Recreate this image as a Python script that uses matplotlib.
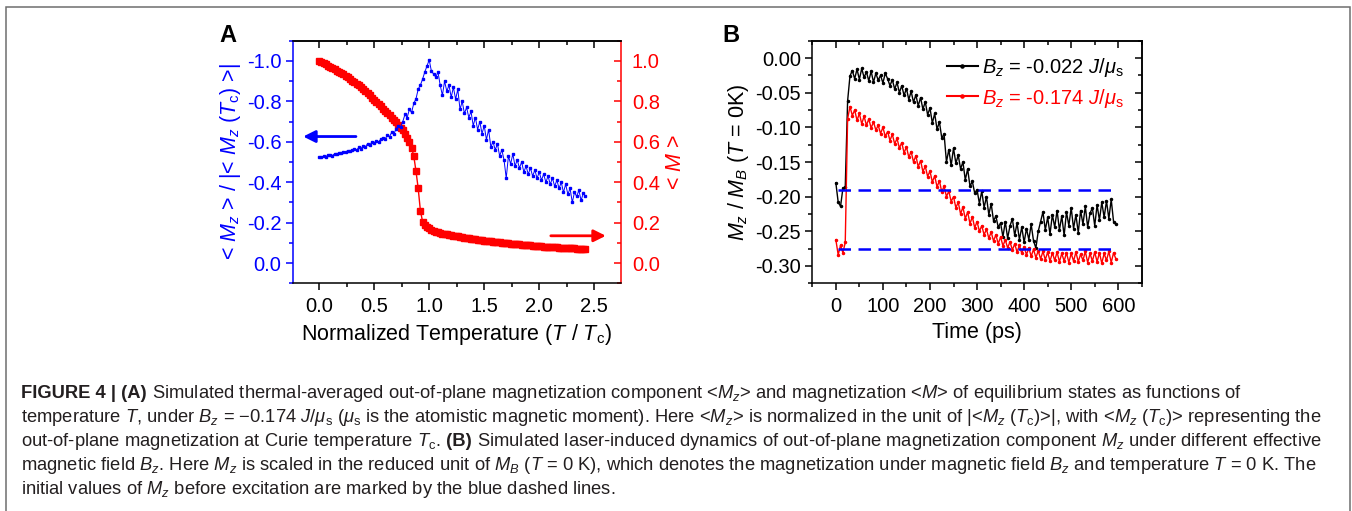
import numpy as np
import matplotlib
matplotlib.use("Agg")
import matplotlib.pyplot as plt
from matplotlib.ticker import MultipleLocator
from matplotlib.patches import Rectangle

plt.rcParams['font.family'] = ['Liberation Sans', 'DejaVu Sans']
plt.rcParams['mathtext.fontset'] = 'custom'
plt.rcParams['mathtext.rm'] = 'Liberation Sans'
plt.rcParams['mathtext.it'] = 'Liberation Sans:italic'
plt.rcParams['mathtext.bf'] = 'Liberation Sans:bold'
plt.rcParams['axes.unicode_minus'] = False

W, H = 1352, 511

# ---- panel A: equilibrium <Mz> and <M> vs T/Tc (sampled every 0.02) ----
temp_norm = np.round(np.arange(0, 2.43, 0.02), 2)
mz_norm = [
    -0.524, -0.526, -0.528, -0.527, -0.533, -0.535, -0.532, -0.540, -0.538, -0.545,
    -0.543, -0.550, -0.548, -0.556, -0.553, -0.560, -0.565, -0.558, -0.572, -0.566,
    -0.580, -0.575, -0.590, -0.583, -0.600, -0.594, -0.606, -0.600, -0.612, -0.620,
    -0.614, -0.632, -0.625, -0.648, -0.640, -0.665, -0.680, -0.672, -0.700, -0.735,
    -0.720, -0.760, -0.745, -0.790, -0.812, -0.860, -0.880, -0.910, -0.945, -0.975,
    -1.005, -0.950, -0.935, -0.920, -0.945, -0.880, -0.830, -0.900, -0.850, -0.880,
    -0.820, -0.870, -0.810, -0.860, -0.760, -0.800, -0.740, -0.770, -0.720, -0.750,
    -0.680, -0.720, -0.660, -0.700, -0.640, -0.680, -0.610, -0.660, -0.575, -0.600,
    -0.560, -0.590, -0.530, -0.560, -0.510, -0.420, -0.530, -0.490, -0.540, -0.480,
    -0.510, -0.470, -0.500, -0.450, -0.480, -0.440, -0.470, -0.430, -0.460, -0.420,
    -0.450, -0.410, -0.440, -0.400, -0.430, -0.390, -0.420, -0.380, -0.410, -0.370,
    -0.400, -0.350, -0.390, -0.340, -0.370, -0.300, -0.350, -0.330, -0.360, -0.310,
    -0.345, -0.330,
]
m_total = [
    1.000, 0.994, 0.989, 0.983, 0.977, 0.971, 0.965, 0.959, 0.952, 0.946,
    0.939, 0.933, 0.926, 0.919, 0.911, 0.903, 0.895, 0.887, 0.879, 0.871,
    0.862, 0.852, 0.841, 0.830, 0.819, 0.808, 0.797, 0.786, 0.775, 0.764,
    0.753, 0.742, 0.731, 0.720, 0.708, 0.696, 0.684, 0.670, 0.656, 0.640,
    0.620, 0.598, 0.570, 0.530, 0.455, 0.370, 0.260, 0.205, 0.190, 0.178,
    0.172, 0.165, 0.160, 0.156, 0.152, 0.150, 0.146, 0.144, 0.142, 0.140,
    0.138, 0.136, 0.134, 0.132, 0.130, 0.128, 0.126, 0.124, 0.122, 0.120,
    0.119, 0.117, 0.116, 0.114, 0.113, 0.111, 0.110, 0.108, 0.107, 0.106,
    0.104, 0.103, 0.102, 0.100, 0.099, 0.098, 0.097, 0.096, 0.095, 0.094,
    0.093, 0.092, 0.091, 0.090, 0.089, 0.088, 0.087, 0.086, 0.086, 0.085,
    0.084, 0.083, 0.082, 0.082, 0.081, 0.080, 0.079, 0.079, 0.078, 0.077,
    0.077, 0.076, 0.075, 0.075, 0.074, 0.073, 0.073, 0.072, 0.072, 0.071,
    0.070, 0.070,
]

# ---- panel B: Mz/MB dynamics (sampled every 5 ps) ----
time_ps = np.arange(0, 600, 5)
mz_b022 = [
    -0.180, -0.208, -0.214, -0.188, -0.186, -0.062, -0.026, -0.018, -0.030, -0.016,
    -0.031, -0.015, -0.028, -0.020, -0.033, -0.019, -0.035, -0.022, -0.032, -0.025,
    -0.036, -0.022, -0.030, -0.040, -0.031, -0.045, -0.035, -0.050, -0.040, -0.054,
    -0.044, -0.060, -0.048, -0.064, -0.053, -0.069, -0.057, -0.074, -0.063, -0.082,
    -0.072, -0.094, -0.080, -0.103, -0.092, -0.115, -0.110, -0.150, -0.132, -0.155,
    -0.130, -0.152, -0.140, -0.160, -0.150, -0.176, -0.160, -0.185, -0.178, -0.195,
    -0.190, -0.210, -0.192, -0.216, -0.200, -0.226, -0.210, -0.235, -0.228, -0.244,
    -0.238, -0.258, -0.236, -0.260, -0.242, -0.232, -0.256, -0.238, -0.262, -0.244,
    -0.266, -0.246, -0.262, -0.240, -0.264, -0.274, -0.250, -0.236, -0.222, -0.248,
    -0.230, -0.254, -0.226, -0.244, -0.220, -0.248, -0.228, -0.256, -0.222, -0.242,
    -0.216, -0.246, -0.226, -0.252, -0.220, -0.240, -0.214, -0.244, -0.224, -0.216,
    -0.242, -0.212, -0.234, -0.208, -0.230, -0.206, -0.232, -0.204, -0.236, -0.240,
]
mz_b174 = [
    -0.262, -0.284, -0.270, -0.281, -0.266, -0.088, -0.070, -0.083, -0.075, -0.090,
    -0.080, -0.095, -0.084, -0.097, -0.088, -0.101, -0.092, -0.104, -0.097, -0.109,
    -0.100, -0.113, -0.106, -0.119, -0.110, -0.124, -0.116, -0.130, -0.122, -0.137,
    -0.128, -0.143, -0.135, -0.150, -0.141, -0.157, -0.148, -0.164, -0.156, -0.171,
    -0.163, -0.179, -0.170, -0.186, -0.177, -0.193, -0.185, -0.200, -0.192, -0.207,
    -0.200, -0.216, -0.208, -0.225, -0.215, -0.232, -0.222, -0.239, -0.229, -0.245,
    -0.236, -0.250, -0.242, -0.255, -0.247, -0.260, -0.251, -0.264, -0.255, -0.268,
    -0.258, -0.271, -0.262, -0.274, -0.265, -0.277, -0.268, -0.280, -0.270, -0.282,
    -0.272, -0.284, -0.274, -0.286, -0.276, -0.288, -0.278, -0.290, -0.279, -0.291,
    -0.280, -0.293, -0.281, -0.292, -0.280, -0.294, -0.282, -0.293, -0.281, -0.295,
    -0.282, -0.293, -0.280, -0.294, -0.283, -0.292, -0.279, -0.295, -0.282, -0.293,
    -0.280, -0.294, -0.281, -0.296, -0.282, -0.292, -0.279, -0.295, -0.281, -0.290,
]
initial_levels = [-0.19, -0.275]
legend_labels = [r'$B_z$ = -0.022 $J/\mu_\mathrm{s}$', r'$B_z$ = -0.174 $J/\mu_\mathrm{s}$']

xticks_a = [0.0, 0.5, 1.0, 1.5, 2.0, 2.5]
yticks_left = [-1.0, -0.8, -0.6, -0.4, -0.2, 0.0]
yticks_right = [0.0, 0.2, 0.4, 0.6, 0.8, 1.0]
xticks_b = [0, 100, 200, 300, 400, 500, 600]
yticks_b = [0.0, -0.05, -0.10, -0.15, -0.20, -0.25, -0.30]

BLUE, RED = '#0000FF', '#FF0000'
TICK = 14.5
LAB = 15.5

fig = plt.figure(figsize=(W / 100, H / 100), dpi=100)
fig.patch.set_facecolor('white')
fig.patches.append(Rectangle((6 / W, -0.1), 1344 / W, 1.1 - 6.5 / H, transform=fig.transFigure,
                             fill=False, edgecolor='#6e6e6e', lw=1.1))


def style_axes(ax):
    for s in ax.spines.values():
        s.set_linewidth(1.1)
    ax.tick_params(which='both', direction='out', width=1.1, labelsize=TICK)
    ax.tick_params(which='major', length=5)
    ax.tick_params(which='minor', length=3)
    ax.tick_params(axis='x', pad=5)


def top_ticks(ax, major, minor):
    sec = ax.secondary_xaxis('top')
    sec.xaxis.set_major_locator(MultipleLocator(major))
    sec.xaxis.set_minor_locator(MultipleLocator(minor))
    sec.tick_params(which='both', direction='in', width=1.1, labeltop=False)
    sec.tick_params(which='major', length=5)
    sec.tick_params(which='minor', length=3)
    sec.spines['top'].set_linewidth(1.1)
    return sec


# ---------------- panel A ----------------
axA = fig.add_axes([292.7 / W, 1 - 283.3 / H, 328 / W, 242.6 / H])
style_axes(axA)
axA.plot(temp_norm, mz_norm, color=BLUE, lw=0.7, marker='s', ms=2.0, mec=BLUE, zorder=3)
axA.set_xlim(-0.24, 2.74)
axA.set_ylim(0.1, -1.1)
axA.set_xticks(xticks_a, [f'{v:.1f}' for v in xticks_a])
axA.xaxis.set_minor_locator(MultipleLocator(0.25))
axA.set_yticks(yticks_left, [f'{v:.1f}' for v in yticks_left])
axA.yaxis.set_minor_locator(MultipleLocator(0.1))
axA.tick_params(axis='y', which='both', colors=BLUE, pad=3)
axA.spines['left'].set_color(BLUE)
axA.spines['right'].set_visible(False)
axA.set_xlabel(r'Normalized Temperature ($T$ / $T_\mathrm{c}$)', fontsize=LAB, labelpad=4)
axA.set_ylabel(r'< $M_z$ > / |< $M_z$ ($T_\mathrm{c}$) >|', fontsize=LAB, color=BLUE, labelpad=3)
top_ticks(axA, 0.5, 0.25)
axA.annotate('', xy=(-0.17, -0.626), xytext=(0.36, -0.626),
             arrowprops=dict(arrowstyle='-|>', color=BLUE, lw=2, mutation_scale=18))

axA2 = axA.twinx()
axA2.plot(temp_norm, m_total, color=RED, lw=1.0, marker='s', ms=4.4, mec=RED, zorder=2)
axA2.set_ylim(-0.1, 1.1)
axA2.set_yticks(yticks_right, [f'{v:.1f}' for v in yticks_right])
axA2.yaxis.set_minor_locator(MultipleLocator(0.1))
for s in ('left', 'top', 'bottom'):
    axA2.spines[s].set_visible(False)
axA2.spines['right'].set_color(RED)
axA2.spines['right'].set_linewidth(1.1)
axA2.tick_params(axis='y', which='both', direction='in', colors=RED, width=1.1,
                 labelsize=TICK, pad=8)
axA2.tick_params(axis='y', which='major', length=5)
axA2.tick_params(axis='y', which='minor', length=3)
axA2.set_ylabel(r'< $M$ >', fontsize=LAB, color=RED, labelpad=4)
axA2.annotate('', xy=(2.63, 0.135), xytext=(2.08, 0.135),
              arrowprops=dict(arrowstyle='-|>', color=RED, lw=2, mutation_scale=18))
axA.set_zorder(axA2.get_zorder() + 1)
axA.patch.set_visible(False)

fig.text(228 / W, 1 - 35 / H, 'A', fontsize=17, fontweight='bold', ha='center', va='center')

# ---------------- panel B ----------------
axB = fig.add_axes([812.3 / W, 1 - 283.3 / H, 329.5 / W, 242.6 / H])
style_axes(axB)
axB.plot(time_ps, mz_b022, color='black', lw=1.0, marker='.', ms=3, label=legend_labels[0])
axB.plot(time_ps, mz_b174, color=RED, lw=1.0, marker='.', ms=3, label=legend_labels[1])
for lvl in initial_levels:
    axB.plot([time_ps[1], time_ps[-1]], [lvl, lvl], color=BLUE, lw=1.8, ls=(0, (5, 3)), zorder=4)
axB.set_xlim(-50, 650)
axB.set_ylim(-0.325, 0.025)
axB.set_xticks(xticks_b, [str(v) for v in xticks_b])
axB.xaxis.set_minor_locator(MultipleLocator(50))
axB.set_yticks(yticks_b, [f'{v:.2f}' for v in yticks_b])
axB.yaxis.set_minor_locator(MultipleLocator(0.025))
axB.tick_params(axis='y', pad=3)
axB.set_xlabel('Time (ps)', fontsize=LAB, labelpad=4)
axB.set_ylabel(r'$M_z$ / $M_B$ ($T$ = 0K)', fontsize=LAB, labelpad=3)
top_ticks(axB, 100, 50)
secy = axB.secondary_yaxis('right')
secy.yaxis.set_major_locator(MultipleLocator(0.05))
secy.yaxis.set_minor_locator(MultipleLocator(0.025))
secy.tick_params(which='both', direction='in', width=1.1, labelright=False)
secy.tick_params(which='major', length=5)
secy.tick_params(which='minor', length=3)
secy.spines['right'].set_linewidth(1.1)
leg = axB.legend(loc='upper left', bbox_to_anchor=(0.41, 0.935), frameon=False, fontsize=14.5,
                 handlelength=1.5, handletextpad=0.2, labelspacing=0.35, borderpad=0,
                 borderaxespad=0, labelcolor='linecolor', markerscale=1.5)
for h in leg.get_lines():
    h.set_linewidth(1.5)

fig.text(731 / W, 1 - 35 / H, 'B', fontsize=17, fontweight='bold', ha='center', va='center')

# ---------------- caption ----------------
CAP = 13.2
CAP_COLOR = '#231f20'
cap_lines = [
    [('FIGURE 4 | (A)', 'bold'),
     (r' Simulated thermal-averaged out-of-plane magnetization component <$M_z$> and magnetization <$M$> of equilibrium states as functions of', 'normal')],
    [(r'temperature $T$, under $B_z$ = −0.174 $J/\mu_\mathrm{s}$ ($\mu_\mathrm{s}$ is the atomistic magnetic moment). Here <$M_z$> is normalized in the unit of |<$M_z$ ($T_\mathrm{c}$)>|, with <$M_z$ ($T_\mathrm{c}$)> representing the', 'normal')],
    [(r'out-of-plane magnetization at Curie temperature $T_\mathrm{c}$.', 'normal'), (' (B)', 'bold'),
     (r' Simulated laser-induced dynamics of out-of-plane magnetization component $M_z$ under different effective', 'normal')],
    [(r'magnetic field $B_z$. Here $M_z$ is scaled in the reduced unit of $M_B$ ($T$ = 0 K), which denotes the magnetization under magnetic field $B_z$ and temperature $T$ = 0 K. The', 'normal')],
    [(r'initial values of $M_z$ before excitation are marked by the blue dashed lines.', 'normal')],
]
cap_baselines = [398, 422, 446, 470, 494]

renderer = fig.canvas.get_renderer()
for pieces, base in zip(cap_lines, cap_baselines):
    x = 21.0
    for txt, weight in pieces:
        t = fig.text(x / W, 1 - base / H, txt, fontsize=CAP, fontweight=weight,
                     color=CAP_COLOR, ha='left', va='baseline')
        x = t.get_window_extent(renderer).x1

fig.savefig('out.png', dpi=100, facecolor='white')
